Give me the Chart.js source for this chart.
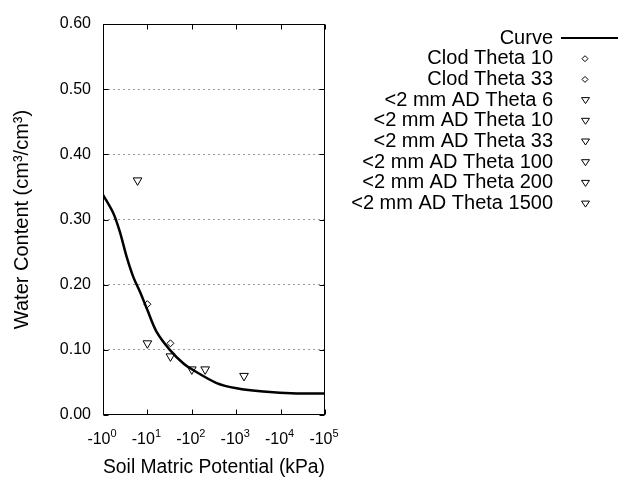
<!DOCTYPE html>
<html>
<head>
<meta charset="utf-8">
<script src="https://cdn.jsdelivr.net/npm/chart.js@4.4.0/dist/chart.umd.min.js"></script>
<style>
  html, body { margin: 0; padding: 0; background: #fff; }
</style>
</head>
<body>
<canvas id="myChart" width="640" height="480"></canvas>
<script>
// fitted curve (suction in kPa, water content cm3/cm3)
const curveKpa = [1, 1.7, 2.4, 3.4, 4.8, 6.8, 10, 16, 32, 65, 107, 363, 1020, 4070, 23000, 100000]
const curveTheta = [0.338, 0.310, 0.281, 0.243, 0.212, 0.189, 0.161, 0.128, 0.100, 0.079, 0.069, 0.049, 0.041, 0.036, 0.033, 0.033]

// measured points, one series each
const pointLabels = ['Clod Theta 10', 'Clod Theta 33', '<2 mm AD Theta 6', '<2 mm AD Theta 10',
  '<2 mm AD Theta 33', '<2 mm AD Theta 100', '<2 mm AD Theta 200', '<2 mm AD Theta 1500']
const pointKpa = [10, 33, 6, 10, 33, 100, 200, 1500]
const pointTheta = [0.17, 0.11, 0.36, 0.11, 0.09, 0.07, 0.07, 0.06]
const pointShapes = ['diamond', 'diamond', 'tri', 'tri', 'tri', 'tri', 'tri', 'tri']

// axes
const xTicks = [1, 10, 100, 1000, 10000, 100000]
const xTickBase = '-10'
const xTickExp = ['0', '1', '2', '3', '4', '5']
const yTicks = [0, 0.1, 0.2, 0.3, 0.4, 0.5, 0.6]

const FONT = "'Liberation Sans', Arial, sans-serif"

// build datasets
var datasets = [{
  label: 'Curve',
  data: curveKpa.map((k, i) => ({x: k, y: curveTheta[i]})),
  showLine: true,
  borderColor: '#000',
  borderWidth: 2.5,
  pointRadius: 0,
  tension: 0.3,
  shape: 'line'
}]
for (let i = 0; i < pointLabels.length; i++) {
  let isTri = pointShapes[i] == 'tri'
  datasets.push({
    label: pointLabels[i],
    data: [{x: pointKpa[i], y: pointTheta[i]}],
    showLine: false,
    pointStyle: isTri ? 'triangle' : 'rectRot',
    rotation: isTri ? 180 : 0,
    pointRadius: isTri ? 5 : 3.5,
    pointBackgroundColor: '#fff',
    pointBorderColor: '#000',
    pointBorderWidth: 1,
    shape: pointShapes[i]
  })
}

// box round the plot with inward ticks, and the -10^n labels with real superscripts
const framePlugin = {
  id: 'frame',
  afterDatasetsDraw(chart) {
    const {ctx, chartArea: a, scales} = chart
    const l = Math.round(a.left) + 0.5, r = Math.round(a.right) - 0.5
    const t = Math.round(a.top) + 0.5, b = Math.round(a.bottom) - 0.5
    ctx.save()
    ctx.strokeStyle = '#000'
    ctx.lineWidth = 1
    ctx.strokeRect(l, t, r - l, b - t)
    ctx.beginPath()
    xTicks.forEach(v => {
      let x = Math.round(scales.x.getPixelForValue(v)) + 0.5
      ctx.moveTo(x, b); ctx.lineTo(x, b - 5)
      ctx.moveTo(x, t); ctx.lineTo(x, t + 5)
    })
    yTicks.forEach(v => {
      let y = Math.round(scales.y.getPixelForValue(v)) + 0.5
      ctx.moveTo(l, y); ctx.lineTo(l + 5, y)
      ctx.moveTo(r, y); ctx.lineTo(r - 5, y)
    })
    ctx.stroke()

    ctx.fillStyle = '#000'
    ctx.textBaseline = 'alphabetic'
    ctx.textAlign = 'left'
    xTicks.forEach((v, i) => {
      let x = scales.x.getPixelForValue(v)
      ctx.font = '16px ' + FONT
      let wb = ctx.measureText(xTickBase).width
      ctx.font = '11px ' + FONT
      let we = ctx.measureText(xTickExp[i]).width
      let x0 = x - (wb + we) / 2 - 1
      ctx.font = '16px ' + FONT
      ctx.fillText(xTickBase, x0, a.bottom + 29)
      ctx.font = '11px ' + FONT
      ctx.fillText(xTickExp[i], x0 + wb, a.bottom + 22)
    })
    ctx.restore()
  }
}

// legend at the right: text right aligned, symbol after it
const legendPlugin = {
  id: 'sideLegend',
  afterDraw(chart) {
    const ctx = chart.ctx
    ctx.save()
    ctx.font = '20px ' + FONT
    ctx.fillStyle = '#000'
    ctx.textAlign = 'right'
    ctx.textBaseline = 'middle'
    chart.data.datasets.forEach((ds, i) => {
      let y = 38 + i * 20.7
      ctx.fillText(ds.label, 553, y)
      ctx.strokeStyle = '#000'
      ctx.beginPath()
      if (ds.shape == 'line') {
        ctx.lineWidth = 2
        ctx.moveTo(561, y); ctx.lineTo(618, y)
        ctx.stroke()
      } else if (ds.shape == 'diamond') {
        ctx.lineWidth = 1
        ctx.moveTo(585, y - 3); ctx.lineTo(588, y); ctx.lineTo(585, y + 3); ctx.lineTo(582, y)
        ctx.closePath()
        ctx.stroke()
      } else {
        ctx.lineWidth = 1
        ctx.moveTo(581.5, y - 2.5); ctx.lineTo(589.5, y - 2.5); ctx.lineTo(585.5, y + 3.5)
        ctx.closePath()
        ctx.stroke()
      }
    })
    ctx.restore()
  }
}

var ctx = document.getElementById('myChart').getContext('2d')
var chart = new Chart(ctx, {
  type: 'scatter',
  data: { datasets: datasets },
  options: {
    responsive: false,
    animation: false,
    layout: { padding: { top: 24, right: 315, left: 0, bottom: 0 } },
    plugins: {
      legend: { display: false },
      tooltip: { enabled: false }
    },
    scales: {
      x: {
        type: 'logarithmic',
        min: 1,
        max: 100000,
        afterBuildTicks: s => { s.ticks = xTicks.map(v => ({value: v})) },
        afterFit: s => { s.height = 65 },
        ticks: {
          // drawn by the frame plugin with a raised exponent
          callback: v => xTickBase + xTickExp[xTicks.indexOf(v)],
          font: { size: 16, family: FONT },
          color: 'rgba(0,0,0,0)',
          padding: 14,
          maxRotation: 0,
          autoSkip: false
        },
        grid: { display: false, drawTicks: false },
        border: { display: false },
        title: {
          display: true,
          text: 'Soil Matric Potential (kPa)',
          font: { size: 20, family: FONT },
          color: '#000',
          padding: { top: 0, bottom: 1 }
        }
      },
      y: {
        min: 0,
        max: 0.6,
        afterBuildTicks: s => { s.ticks = yTicks.map(v => ({value: v})) },
        afterFit: s => { s.width = 103 },
        ticks: {
          callback: v => v.toFixed(2),
          font: { size: 16, family: FONT },
          color: '#000',
          padding: 12
        },
        grid: {
          drawTicks: false,
          color: c => (c.tick && (c.tick.value == 0 || c.tick.value == 0.6)) ? 'rgba(0,0,0,0)' : '#9a9a9a',
          lineWidth: 1
        },
        border: { display: false, dash: [2, 3] },
        title: {
          display: true,
          text: 'Water Content (cm\u00b3/cm\u00b3)',
          font: { size: 20, family: FONT },
          color: '#000',
          padding: { top: 10, bottom: 0 }
        }
      }
    }
  },
  plugins: [framePlugin, legendPlugin]
})
</script>
</body>
</html>
